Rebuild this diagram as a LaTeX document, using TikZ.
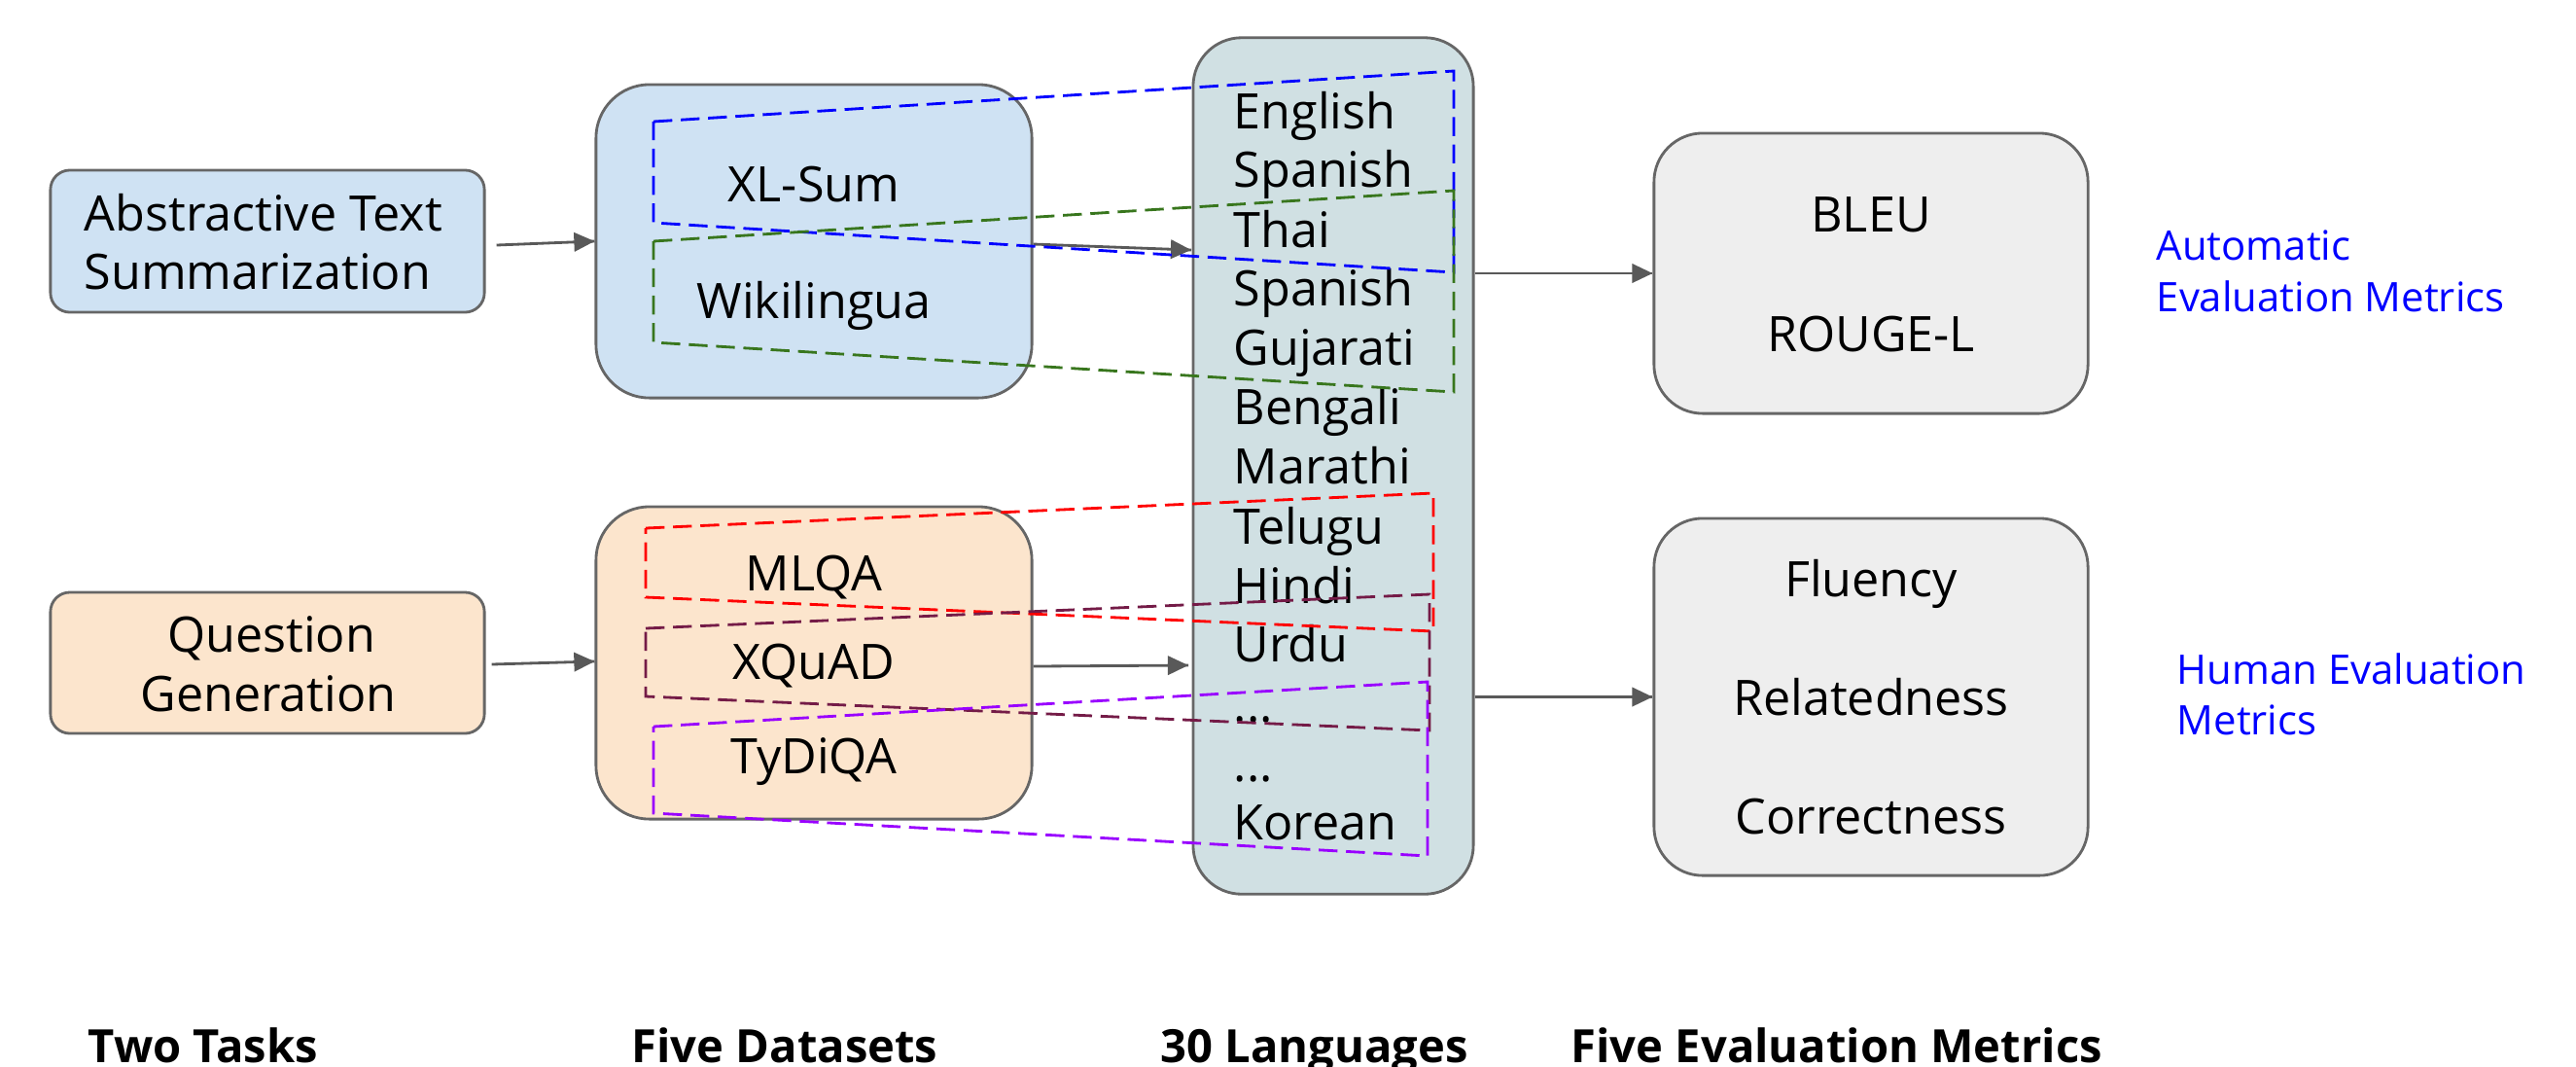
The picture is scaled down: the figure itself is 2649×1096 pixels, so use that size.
\documentclass[tikz,border=0pt]{standalone}
\usepackage{fontspec}
\setmainfont{Open Sans}
\usetikzlibrary{arrows.meta}
\usetikzlibrary{decorations.markings}
\definecolor{taskblue}{HTML}{CFE2F3}
\definecolor{taskorange}{HTML}{FCE5CD}
\definecolor{langgray}{HTML}{D0E0E3}
\definecolor{metricgray}{HTML}{EEEEEE}
\definecolor{edgegray}{HTML}{666666}
\definecolor{arrowgray}{HTML}{595959}
\definecolor{dblue}{HTML}{0000FF}
\definecolor{dgreen}{HTML}{38761D}
\definecolor{dred}{HTML}{FF0000}
\definecolor{dmaroon}{HTML}{741B47}
\definecolor{dpurple}{HTML}{9900FF}
\tikzset{arr/.style = {color=arrowgray, line width=0.8pt,
                       decoration={markings,
                                   mark=at position 1 with {\arrow{Triangle[length=6pt,width=5.5pt]}}},
                       postaction={decorate}}}
\tikzset{box/.style = {draw=edgegray, line width=0.8pt, rectangle, inner sep=0}}
\tikzset{txt/.style = {font=\fontsize{14.3}{17}\selectfont, inner sep=0}}
\tikzset{note/.style = {font=\fontsize{11.9}{15}\selectfont, text=dblue, inner sep=0, anchor=base west}}
\tikzset{head/.style = {font=\fontsize{13.4}{16}\selectfont\bfseries, inner sep=0, anchor=base west}}
\tikzset{grp/.style = {line width=0.8pt, dash pattern=on 5.5pt off 2.5pt}}

\begin{document}
\begin{tikzpicture}[x=0.01cm, y=-0.01cm]
      \useasboundingbox (0, 0) rectangle (2649, 1096);

      % boxes
      \node [box, fill=taskblue, rounded corners=0.2cm, minimum width=4.46cm, minimum height=1.46cm] (taskA) at (275, 248) {};
      \node [box, fill=taskorange, rounded corners=0.2cm, minimum width=4.46cm, minimum height=1.45cm] (taskB) at (275, 681.5) {};
      \node [box, fill=taskblue, rounded corners=0.55cm, minimum width=4.48cm, minimum height=3.22cm] (dataA) at (837, 248) {};
      \node [box, fill=taskorange, rounded corners=0.55cm, minimum width=4.48cm, minimum height=3.21cm] (dataB) at (837, 681.5) {};
      \node [box, fill=langgray, rounded corners=0.5cm, minimum width=2.88cm, minimum height=8.8cm] (langs) at (1371, 479) {};
      \node [box, fill=metricgray, rounded corners=0.5cm, minimum width=4.46cm, minimum height=2.88cm] (autom) at (1924, 281) {};
      \node [box, fill=metricgray, rounded corners=0.5cm, minimum width=4.46cm, minimum height=3.67cm] (human) at (1924, 716.5) {};

      % tasks
      \node [txt, anchor=base west] (absA) at (86, 237) {Abstractive Text};
      \node [txt, anchor=base west] (absB) at (86, 297) {Summarization};
      \node [txt, anchor=base] (qgA) at (279, 670) {Question};
      \node [txt, anchor=base] (qgB) at (276, 731) {Generation};

      % datasets
      \node [txt, anchor=base] (xlsum) at (837, 207) {XL-Sum};
      \node [txt, anchor=base] (wiki) at (837, 327) {Wikilingua};
      \node [txt, anchor=base] (mlqa) at (837, 607) {MLQA};
      \node [txt, anchor=base] (xquad) at (837, 698) {XQuAD};
      \node [txt, anchor=base] (tydi) at (837, 795) {TyDiQA};

      % languages
      \node [txt, anchor=base west] (en) at (1268, 132) {English};
      \node [txt, anchor=base west] (es) at (1268, 192) {Spanish};
      \node [txt, anchor=base west] (th) at (1268, 254) {Thai};
      \node [txt, anchor=base west] (esB) at (1268, 314) {Spanish};
      \node [txt, anchor=base west] (gu) at (1268, 375) {Gujarati};
      \node [txt, anchor=base west] (bn) at (1268, 436) {Bengali};
      \node [txt, anchor=base west] (mr) at (1268, 497) {Marathi};
      \node [txt, anchor=base west] (te) at (1268, 559) {Telugu};
      \node [txt, anchor=base west] (hi) at (1268, 620) {Hindi};
      \node [txt, anchor=base west] (ur) at (1268, 680) {Urdu};
      \node [txt, anchor=base west] (dotsA) at (1268, 742) {...};
      \node [txt, anchor=base west] (dotsB) at (1268, 803) {...};
      \node [txt, anchor=base west] (ko) at (1268, 863) {Korean};

      % metrics
      \node [txt, anchor=base] (bleu) at (1924, 238) {BLEU};
      \node [txt, anchor=base] (rouge) at (1924, 361) {ROUGE-L};
      \node [txt, anchor=base] (flu) at (1924, 613) {Fluency};
      \node [txt, anchor=base] (rel) at (1924, 735) {Relatedness};
      \node [txt, anchor=base] (cor) at (1924, 857) {Correctness};

      \node [note] (autoA) at (2217, 267) {Automatic};
      \node [note] (autoB) at (2217, 320) {Evaluation Metrics};
      \node [note] (humA) at (2238, 703) {Human Evaluation};
      \node [note] (humB) at (2238, 755) {Metrics};

      % arrows
      \coordinate (inA) at (1225, 257);
      \coordinate (inB) at (1222, 684);
      \draw [arr] ([xshift=0.11cm, yshift=-0.04cm]taskA.east) -- (dataA.west);
      \draw [arr] ([xshift=0.06cm, yshift=-0.015cm]taskB.east) -- ([yshift=0.015cm]dataB.west);
      \draw [arr] ([yshift=-0.03cm]dataA.east) -- (inA);
      \draw [arr] ([yshift=-0.035cm]dataB.east) -- (inB);
      \draw [arr] (langs.east |- autom.west) -- (autom.west);
      \draw [arr] (langs.east |- human.west) -- (human.west);

      % dataset -> language groups
      \draw [grp, dblue] (672, 125) -- (1495, 73) -- (1495, 280) -- (672, 229) -- cycle;
      \draw [grp, dgreen] (672, 248) -- (1495, 196) -- (1495, 403) -- (672, 352) -- cycle;
      \draw [grp, dred] (664, 543) -- (1474, 507) -- (1474, 649) -- (664, 614) -- cycle;
      \draw [grp, dmaroon] (664, 646) -- (1470, 611) -- (1470, 751) -- (664, 716) -- cycle;
      \draw [grp, dpurple] (672, 747) -- (1468, 701) -- (1468, 880) -- (672, 836) -- cycle;

      % column heads
      \node [head] (hTasks) at (90, 1092) {Two Tasks};
      \node [head] (hData) at (649, 1092) {Five Datasets};
      \node [head] (hLang) at (1193, 1092) {30 Languages};
      \node [head] (hMetric) at (1615, 1092) {Five Evaluation Metrics};
    \end{tikzpicture}
\end{document}
